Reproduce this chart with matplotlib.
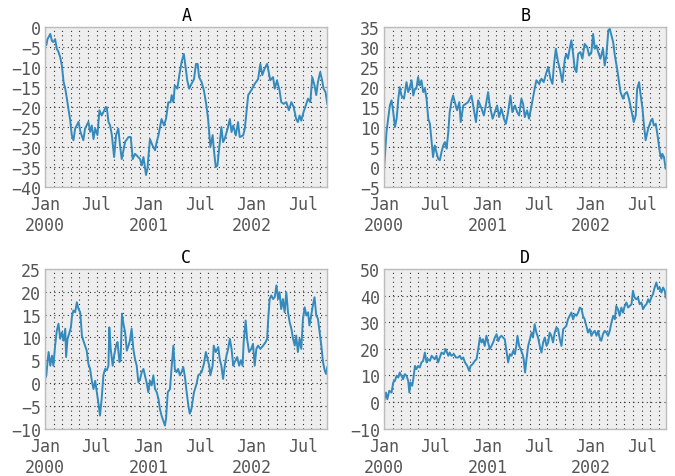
import numpy as np
import matplotlib
matplotlib.use('Agg')
import matplotlib.pyplot as plt
import matplotlib.dates as mdates
import matplotlib.ticker as mticker

# ── Data (day offset from 2000-01-01, value) ─────────────────────────────────
START = np.datetime64('2000-01-01')
END_DAY = 999

a_days = [0, 4, 8, 18, 24, 29, 35, 41, 47, 53, 59, 65, 71, 77, 82, 88, 94, 100,
          106, 118, 124, 135, 141, 153, 159, 165, 171, 177, 185, 192, 200, 212,
          218, 224, 230, 236, 244, 251, 259, 265, 271, 283, 295, 303, 310, 318,
          324, 336, 342, 348, 357, 362, 371, 380, 389, 395, 401, 412, 421, 428,
          436, 444, 448, 454, 459, 468, 475, 483, 491, 498, 503, 510, 518, 527,
          534, 540, 545, 554, 562, 571, 577, 585, 593, 597, 604, 610, 616, 624,
          630, 636, 646, 654, 660, 666, 675, 683, 689, 701, 707, 713, 719, 730,
          742, 754, 762, 769, 777, 786, 793, 797, 807, 813, 821, 830, 836, 845,
          854, 863, 872, 880, 889, 895, 901, 907, 915, 925, 931, 939, 946, 954,
          960, 966, 974, 981, 986, 993, 999]
a_vals = [-4.0, -4.5, -3.0, -1.7, -3.5, -3.7, -3.0, -5.4, -6.2, -7.5, -9.6, -13.7,
          -15.4, -18.0, -20.4, -23.0, -27.0, -28.3, -25.4, -23.7, -26.0, -28.3,
          -25.4, -23.7, -26.2, -24.6, -28.0, -25.4, -27.0, -20.8, -22.1, -20.4,
          -20.0, -23.7, -24.6, -27.0, -32.5, -27.0, -25.4, -29.6, -33.0, -28.7,
          -27.5, -27.5, -33.0, -31.7, -32.1, -33.0, -34.6, -32.5, -37.0, -35.4,
          -28.0, -29.6, -30.8, -28.7, -27.1, -23.0, -24.6, -22.9, -18.8, -18.8,
          -17.0, -18.8, -14.6, -15.4, -12.0, -8.75, -6.7, -10.4, -13.3, -15.4,
          -14.2, -13.0, -9.2, -9.2, -12.5, -13.75, -15.8, -19.6, -23.0, -30.0,
          -27.0, -30.4, -35.0, -34.6, -30.4, -25.0, -28.75, -27.9, -25.4, -23.0,
          -26.25, -24.6, -27.1, -23.75, -27.5, -27.1, -25.4, -21.25, -17.0, -15.8,
          -14.2, -13.0, -9.2, -12.0, -10.4, -9.2, -11.7, -13.3, -12.5, -15.4,
          -13.3, -15.8, -18.75, -19.2, -18.75, -20.8, -18.75, -20.0, -23.0,
          -23.75, -22.1, -23.4, -21.25, -19.2, -17.9, -18.75, -12.5, -14.6,
          -17.0, -13.75, -11.25, -13.3, -15.4, -16.25, -19.2]

b_days = [0, 8, 14, 20, 26, 32, 38, 44, 50, 55, 61, 70, 79, 85, 91, 97, 103,
          109, 114, 120, 126, 132, 138, 144, 150, 156, 162, 168, 173, 179, 185,
          191, 197, 203, 209, 215, 221, 227, 232, 238, 244, 250, 258, 266, 271,
          280, 289, 297, 303, 309, 317, 325, 333, 345, 353, 362, 368, 374, 384,
          392, 400, 407, 415, 424, 431, 439, 447, 454, 463, 471, 478, 486, 492,
          498, 506, 513, 522, 533, 539, 549, 557, 565, 575, 581, 589, 596, 601,
          608, 616, 622, 631, 640, 645, 651, 657, 663, 667, 675, 681, 687, 695,
          702, 710, 719, 726, 734, 740, 746, 752, 758, 766, 775, 781, 787, 794,
          799, 805, 811, 817, 825, 832, 837, 846, 852, 860, 867, 872, 879, 884,
          891, 896, 903, 907, 915, 919, 926, 935, 943, 950, 955, 962, 970, 976,
          982, 985, 991, 997]
b_vals = [0.0, 8.75, 12.1, 15.4, 16.7, 13.75, 10.0, 12.1, 17.1, 20.0, 17.9, 17.1,
          21.25, 18.75, 20.0, 21.7, 17.9, 19.6, 19.6, 22.5, 20.4, 21.7, 18.75,
          19.6, 17.1, 12.1, 10.8, 6.25, 2.5, 5.4, 3.75, 2.1, 1.7, 3.75, 5.4,
          6.25, 4.6, 8.75, 13.75, 16.25, 17.9, 16.25, 14.2, 16.25, 11.25, 15.4,
          15.8, 16.25, 17.1, 17.9, 14.6, 11.25, 16.7, 14.6, 12.9, 16.25, 18.75,
          15.4, 12.1, 13.75, 15.4, 12.5, 14.6, 12.1, 10.8, 13.75, 17.9, 13.75,
          15.4, 13.75, 12.9, 17.1, 15.8, 12.5, 14.2, 12.1, 15.4, 19.6, 21.7,
          20.8, 22.1, 21.25, 23.75, 25.0, 22.1, 20.8, 25.4, 29.6, 26.25, 24.6,
          21.25, 27.1, 28.3, 27.1, 29.6, 31.7, 29.6, 24.6, 23.75, 28.3, 28.75,
          27.1, 30.8, 30.0, 27.9, 28.75, 33.3, 29.6, 30.4, 28.75, 27.1, 29.6,
          25.4, 27.9, 34.2, 34.6, 32.9, 31.25, 27.9, 24.6, 21.25, 18.75, 17.1,
          18.3, 18.75, 17.1, 15.4, 12.9, 11.25, 12.9, 19.6, 21.25, 18.75, 14.6,
          11.25, 6.7, 9.6, 11.25, 12.1, 10.4, 10.8, 7.1, 3.75, 2.1, 3.3, 2.5,
          -0.4]

c_days = [0, 4, 8, 12, 18, 24, 29, 35, 41, 47, 53, 59, 65, 71, 74, 79, 86, 91,
          95, 100, 106, 112, 118, 124, 130, 135, 141, 147, 153, 159, 165, 171,
          177, 183, 188, 194, 200, 206, 212, 218, 224, 227, 232, 239, 244, 251,
          256, 263, 267, 272, 277, 283, 289, 295, 300, 306, 312, 318, 324, 330,
          336, 342, 348, 353, 359, 365, 371, 377, 383, 389, 395, 401, 406, 412,
          418, 424, 428, 434, 442, 448, 454, 459, 465, 471, 477, 483, 489, 495,
          501, 507, 512, 518, 527, 536, 542, 548, 554, 562, 569, 575, 581, 585,
          593, 597, 604, 613, 618, 624, 630, 636, 642, 648, 654, 660, 666, 671,
          680, 687, 693, 699, 703, 710, 715, 722, 730, 736, 742, 748, 754, 762,
          772, 781, 786, 790, 795, 801, 807, 813, 819, 825, 830, 836, 842, 848,
          854, 860, 866, 872, 878, 884, 889, 895, 901, 907, 913, 919, 925, 931,
          936, 942, 948, 954, 960, 966, 972, 978, 984, 990, 995, 999]
c_vals = [1.0, 1.7, 4.6, 6.8, 3.8, 6.0, 3.8, 8.2, 11.5, 13.0, 9.7, 11.1, 9.3,
          11.9, 5.7, 9.7, 11.1, 12.2, 14.8, 15.9, 15.5, 17.7, 16.2, 15.5, 10.4,
          9.3, 8.2, 7.1, 4.2, 3.1, 0.5, -1.3, 0.5, -2.0, -4.2, -7.1, -3.4, 1.7,
          3.1, 2.8, 3.8, 12.2, 7.5, 3.8, 6.0, 8.2, 9.0, 4.6, 5.3, 15.2, 13.0,
          11.1, 7.1, 8.2, 9.3, 11.9, 7.5, 5.3, 3.8, 0.2, 0.9, 2.4, 3.1, 1.7,
          0.2, -2.0, 0.5, -0.5, 1.7, -1.3, -2.0, -3.4, -5.6, -7.1, -8.2, -9.3,
          -7.8, -2.0, -1.3, 3.8, 8.2, 3.1, 2.4, 3.1, 1.7, 2.4, 3.5, 1.3, -2.0,
          -4.9, -6.7, -5.6, -2.0, -0.2, 1.7, 2.0, 2.4, 4.2, 6.8, 5.3, 3.8, 1.7,
          3.8, 8.2, 6.8, 7.9, 5.3, 3.8, 0.9, 3.8, 6.0, 7.5, 9.7, 7.5, 3.8, 4.6,
          5.7, 3.8, 5.0, 3.8, 9.0, 13.7, 9.7, 6.8, 7.5, 8.6, 3.8, 7.5, 8.2, 7.5,
          8.2, 9.0, 9.7, 14.1, 18.4, 19.2, 18.4, 18.8, 21.4, 18.4, 19.9, 16.2,
          18.4, 15.5, 19.9, 15.5, 13.3, 11.9, 9.7, 8.2, 10.4, 6.8, 9.7, 7.5,
          14.1, 16.6, 14.8, 15.5, 12.6, 14.8, 17.0, 18.8, 14.8, 14.1, 11.1, 8.2,
          4.6, 2.8, 2.0, 3.5]

d_days = [0, 6, 11, 18, 26, 32, 38, 44, 50, 55, 61, 67, 73, 79, 85, 89, 93, 99,
          103, 109, 114, 120, 126, 132, 138, 144, 150, 156, 162, 168, 173, 179,
          185, 191, 197, 203, 211, 218, 227, 232, 238, 247, 254, 262, 268, 274,
          280, 286, 294, 301, 306, 313, 321, 327, 333, 339, 345, 350, 356, 362,
          368, 374, 380, 386, 392, 398, 404, 409, 415, 421, 427, 433, 439, 445,
          451, 457, 463, 468, 472, 478, 483, 490, 494, 499, 504, 510, 516, 522,
          527, 533, 539, 545, 551, 557, 563, 569, 575, 581, 586, 592, 598, 604,
          610, 616, 622, 628, 634, 640, 645, 651, 657, 663, 669, 675, 681, 687,
          693, 699, 704, 710, 716, 722, 728, 734, 740, 746, 752, 758, 763, 769,
          775, 781, 787, 793, 799, 805, 811, 817, 822, 828, 834, 840, 846, 852,
          858, 864, 870, 876, 881, 887, 893, 899, 905, 911, 917, 923, 929, 935,
          940, 946, 952, 958, 964, 970, 976, 982, 988, 994, 997]
d_vals = [0.5, 3.6, 1.1, 4.25, 3.6, 7.4, 8.0, 9.9, 9.25, 11.1, 9.9, 8.6, 10.5,
          9.9, 8.0, 3.6, 7.4, 6.1, 8.6, 13.6, 12.4, 13.6, 13.0, 14.9, 15.5, 18.6,
          14.9, 16.1, 15.5, 17.4, 16.75, 16.1, 17.4, 14.9, 16.75, 18.6, 18.0,
          19.9, 17.4, 18.6, 17.4, 18.0, 16.75, 16.75, 17.4, 16.1, 16.75, 14.9,
          13.6, 11.75, 13.6, 14.25, 15.5, 16.1, 19.9, 24.25, 22.4, 23.6, 21.1,
          24.9, 22.4, 19.9, 21.1, 22.4, 24.25, 25.5, 22.9, 24.25, 24.9, 24.25,
          23.6, 19.25, 14.9, 18.0, 17.4, 19.25, 18.0, 21.1, 24.9, 21.1, 19.9,
          18.0, 16.1, 11.1, 16.1, 21.1, 23.6, 26.1, 24.25, 29.25, 26.1, 24.25,
          21.1, 18.6, 22.4, 24.25, 21.1, 22.4, 26.1, 24.9, 22.4, 26.1, 28.0,
          27.4, 23.6, 21.1, 27.4, 28.0, 28.6, 31.1, 32.4, 33.6, 31.1, 33.0,
          32.4, 33.6, 35.5, 34.9, 32.4, 31.1, 28.6, 26.1, 27.4, 24.9, 26.1,
          26.75, 24.9, 26.75, 24.25, 23.0, 25.5, 26.75, 26.1, 24.9, 26.75, 29.9,
          32.4, 31.1, 36.1, 34.9, 32.4, 35.5, 33.6, 36.1, 37.4, 35.5, 36.1,
          36.75, 41.75, 39.25, 38.6, 39.25, 36.75, 37.4, 34.9, 36.1, 36.75,
          38.6, 37.4, 39.25, 40.5, 43.0, 44.9, 42.4, 43.0, 41.1, 43.0, 41.75,
          39.25]

titles = ['A', 'B', 'C', 'D']
series = [(a_days, a_vals), (b_days, b_vals), (c_days, c_vals), (d_days, d_vals)]
ylims = [(-40, 0), (-5, 35), (-10, 25), (-10, 50)]

# ── Style (old pandas mpl_style look) ────────────────────────────────────────
plt.rcParams['font.family'] = ['DejaVu Sans Mono']
plt.rcParams['font.size'] = 12
plt.rcParams['lines.scale_dashes'] = False

GRID_KW = dict(color='#333333', linestyle=(0, (0.8, 2.4)), linewidth=0.8)


def date_fmt(x, pos=None):
    d = mdates.num2date(x)
    if d.month == 1:
        return d.strftime('Jan\n%Y')
    return d.strftime('%b')


fig, axes = plt.subplots(2, 2, figsize=(6.75, 4.77), dpi=100)
fig.subplots_adjust(left=0.067, right=0.987, top=0.941, bottom=0.099,
                    wspace=0.202, hspace=0.512)

for ax, title, (days, vals), ylim in zip(axes.flat, titles, series, ylims):
    x = START + np.array(days, dtype='timedelta64[D]')
    ax.set_facecolor('#eeeeee')
    ax.plot(x, vals, color='#348ABD', linewidth=1.4)
    ax.set_xlim(START, START + np.timedelta64(END_DAY, 'D'))
    ax.set_ylim(*ylim)
    ax.yaxis.set_major_locator(mticker.MultipleLocator(10 if title == 'D' else 5))
    ax.xaxis.set_major_locator(mdates.MonthLocator(bymonth=[1, 7]))
    ax.xaxis.set_minor_locator(mdates.MonthLocator())
    ax.xaxis.set_major_formatter(mticker.FuncFormatter(date_fmt))
    ax.xaxis.set_minor_formatter(mticker.NullFormatter())
    ax.grid(True, which='both', axis='x', **GRID_KW)
    ax.grid(True, which='major', axis='y', **GRID_KW)
    ax.set_axisbelow(True)
    for sp in ax.spines.values():
        sp.set_color('#bcbcbc')
        sp.set_linewidth(1)
    ax.tick_params(which='both', length=0, colors='#555555', labelsize=12)
    ax.tick_params(axis='x', pad=6)
    ax.tick_params(axis='y', pad=3)
    for lab in ax.get_xticklabels():
        lab.set_horizontalalignment('center')
    ax.set_title(title, fontsize=12, color='black', pad=5)

plt.savefig('out.png', dpi=100)
plt.close(fig)
